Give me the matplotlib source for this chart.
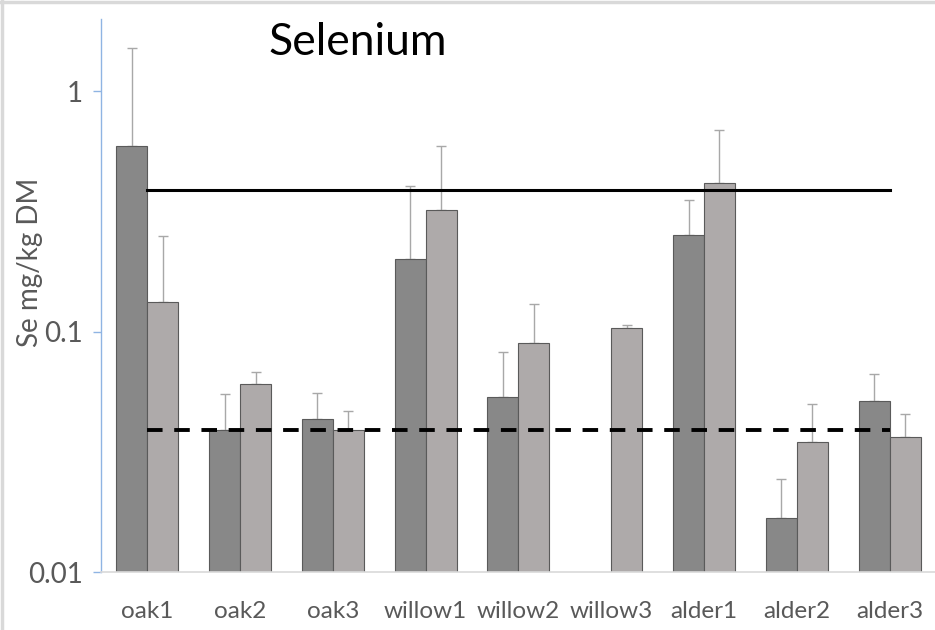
import numpy as np
import matplotlib
matplotlib.use('Agg')
import matplotlib.pyplot as plt
from matplotlib.lines import Line2D

plt.rcParams['font.family'] = ['Lato', 'DejaVu Sans']

# Se concentration per site, two sampling series (nan = no data)
sites = ['oak1', 'oak2', 'oak3', 'willow1', 'willow2', 'willow3', 'alder1', 'alder2', 'alder3']
series_a = [0.59, 0.039, 0.0434, 0.20, 0.0536, np.nan, 0.253, 0.0168, 0.0514]
series_a_err = [0.92, 0.016, 0.012, 0.204, 0.029, np.nan, 0.10, 0.0075, 0.0154]
series_b = [0.133, 0.0605, 0.0391, 0.32, 0.090, 0.1038, 0.416, 0.0348, 0.0363]
series_b_err = [0.116, 0.0076, 0.0078, 0.273, 0.0406, 0.0032, 0.277, 0.0153, 0.009]

upper_limit = 0.39
lower_limit = 0.039

ytick_vals = [0.01, 0.1, 1]
ytick_labels = ['0.01', '0.1', '1']

dark = '#888888'
light = '#aeaaaa'
edge = '#5a5a5a'
err_col = '#a8a8a8'
txt = '#595959'

fig = plt.figure(figsize=(9.35, 6.3), dpi=100)
ax = fig.add_axes([0.108, 0.092, 0.893, 0.878])

x = np.arange(len(sites))
w = 0.334

a = np.array(series_a)
b = np.array(series_b)
ea = np.array(series_a_err)
eb = np.array(series_b_err)

ax.bar(x - w / 2, a, w, color=dark, edgecolor=edge, linewidth=0.8, zorder=2)
ax.bar(x + w / 2, b, w, color=light, edgecolor=edge, linewidth=0.8, zorder=2)
ax.errorbar(x - w / 2, a, yerr=[np.zeros_like(ea), ea], fmt='none',
            ecolor=err_col, elinewidth=1.0, capsize=3.5, capthick=1.0, zorder=1)
ax.errorbar(x + w / 2, b, yerr=[np.zeros_like(eb), eb], fmt='none',
            ecolor=err_col, elinewidth=1.0, capsize=3.5, capthick=1.0, zorder=1)

# reference levels
ax.plot([x[0], x[-1]], [upper_limit, upper_limit], color='black', lw=2.2, zorder=3)
ax.plot([x[0], x[-1]], [lower_limit, lower_limit], color='black', lw=2.8,
        linestyle=(0, (4, 3)), zorder=3)

ax.set_yscale('log')
ax.set_ylim(0.01, 2)
ax.set_xlim(-0.5, len(sites) - 0.5)

ax.set_yticks(ytick_vals)
ax.set_yticklabels(ytick_labels)
ax.yaxis.set_minor_locator(matplotlib.ticker.NullLocator())
ax.set_xticks(x)
ax.set_xticklabels(sites)

ax.tick_params(axis='y', length=6, width=1, color='#8fb4e3', pad=7,
               labelsize=20, labelcolor=txt)
ax.tick_params(axis='x', length=0, pad=21, labelsize=17.5, labelcolor=txt)

for s in ['top', 'right']:
    ax.spines[s].set_visible(False)
ax.spines['left'].set_color('#8fb4e3')
ax.spines['left'].set_linewidth(1)
ax.spines['bottom'].set_color('#d9d9d9')
ax.spines['bottom'].set_linewidth(1.2)

ax.set_ylabel('Se mg/kg DM', fontsize=20, color=txt)
ax.yaxis.set_label_coords(-0.07, 0.56)

fig.text(358 / 935, 1 - 55 / 630, 'Selenium', fontsize=32, ha='center',
         va='baseline', color='black')

# chart area frame edges
fig.add_artist(Line2D([0.002, 0.002], [0, 1], color='#d9d9d9', lw=2.5,
                      transform=fig.transFigure))
fig.add_artist(Line2D([0, 1], [0.997, 0.997], color='#d9d9d9', lw=2.5,
                      transform=fig.transFigure))

fig.savefig('out.png', dpi=100)
